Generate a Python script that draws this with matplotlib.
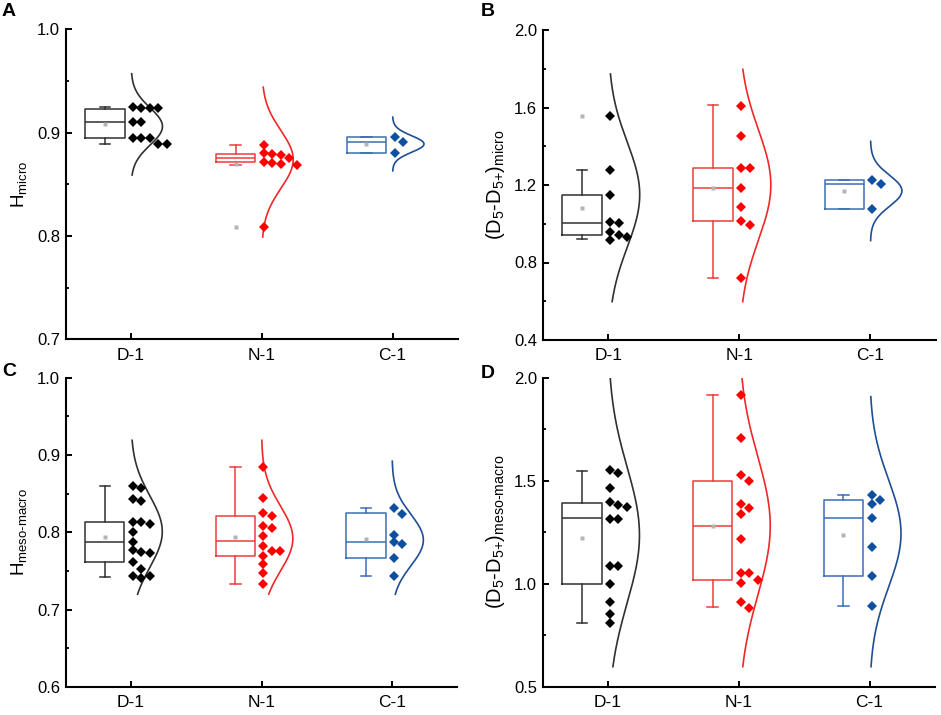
import numpy as np
import matplotlib
matplotlib.use("Agg")
import matplotlib.pyplot as plt

plt.rcParams['font.family'] = ['Liberation Sans', 'DejaVu Sans']
plt.rcParams['mathtext.fontset'] = 'custom'
plt.rcParams['mathtext.rm'] = 'Liberation Sans'
plt.rcParams['mathtext.it'] = 'Liberation Sans:italic'

# ---------------- data ----------------
groups = ['D-1', 'N-1', 'C-1']

A_D1 = [0.925, 0.924, 0.924, 0.924, 0.910, 0.910, 0.895, 0.895, 0.895, 0.889, 0.889]
A_N1 = [0.888, 0.880, 0.879, 0.878, 0.875, 0.872, 0.871, 0.870, 0.869, 0.809]
A_C1 = [0.8955, 0.891, 0.880]
# (whisker low, q1, median, q3, whisker high, mean)
A_box = [(0.889, 0.8945, 0.910, 0.923, 0.925, 0.908),
         (0.869, 0.872, 0.875, 0.8794, 0.888, 0.870),
         (0.880, 0.880, 0.891, 0.8955, 0.8955, 0.889)]
A_out = [[], [0.809], []]
# normal curve: (mu, sigma, y low, y high)
A_curve = [(0.906, 0.018, 0.859, 0.957),
           (0.874, 0.028, 0.799, 0.944),
           (0.889, 0.008, 0.863, 0.915)]

B_D1 = [1.554, 1.277, 1.147, 1.007, 1.006, 0.956, 0.942, 0.930, 0.916]
B_N1 = [1.608, 1.453, 1.289, 1.289, 1.183, 1.088, 1.016, 0.994, 0.718]
B_C1 = [1.224, 1.203, 1.076]
B_box = [(0.920, 0.942, 1.004, 1.148, 1.276, 1.083),
         (0.722, 1.016, 1.183, 1.289, 1.611, 1.183),
         (1.078, 1.078, 1.203, 1.224, 1.224, 1.169)]
B_out = [[1.554], [], []]
B_curve = [(1.15, 0.27, 0.598, 1.773),
           (1.20, 0.285, 0.598, 1.797),
           (1.17, 0.08, 0.913, 1.425)]

C_D1 = [0.860, 0.857, 0.843, 0.840, 0.814, 0.814, 0.811, 0.800, 0.787, 0.777,
        0.775, 0.773, 0.762, 0.753, 0.744, 0.744, 0.741]
C_N1 = [0.884, 0.845, 0.825, 0.821, 0.808, 0.806, 0.795, 0.782, 0.776, 0.776,
        0.769, 0.759, 0.747, 0.733]
C_C1 = [0.832, 0.824, 0.797, 0.787, 0.785, 0.767, 0.744]
C_box = [(0.742, 0.762, 0.787, 0.813, 0.860, 0.794),
         (0.733, 0.769, 0.789, 0.821, 0.884, 0.794),
         (0.744, 0.767, 0.787, 0.825, 0.832, 0.791)]
C_out = [[], [], []]
C_curve = [(0.801, 0.046, 0.720, 0.919),
           (0.792, 0.042, 0.720, 0.919),
           (0.790, 0.033, 0.720, 0.892)]

D_D1 = [1.552, 1.536, 1.466, 1.395, 1.382, 1.371, 1.314, 1.314, 1.084, 1.084,
        0.997, 0.913, 0.851, 0.807]
D_N1 = [1.916, 1.709, 1.528, 1.498, 1.385, 1.366, 1.338, 1.217, 1.053, 1.050,
        1.018, 1.002, 0.913, 0.883]
D_C1 = [1.430, 1.406, 1.385, 1.317, 1.176, 1.039, 0.892]
D_box = [(0.807, 0.997, 1.317, 1.393, 1.547, 1.220),
         (0.885, 1.018, 1.280, 1.498, 1.916, 1.280),
         (0.893, 1.039, 1.317, 1.406, 1.430, 1.236)]
D_out = [[], [], []]
D_curve = [(1.236, 0.33, 0.597, 2.0),
           (1.28, 0.335, 0.597, 2.0),
           (1.244, 0.26, 0.597, 1.908)]

# ---------------- styles ----------------
box_col = ['#303030', '#F03A3A', '#3A6DB5']
pt_col = ['#000000', '#FF0000', '#0F4FA0']
curve_col = ['#303030', '#F02828', '#1F4E94']
gray = '#B4B4B4'

fig = plt.figure(figsize=(9.41, 7.15), dpi=100)
W, H = 941, 715


def make_ax(l, r, t, b):
    return fig.add_axes([l / W, 1 - b / H, (r - l) / W, (b - t) / H])


def swarm_x(ax, vals, base, step=0.064, thr=7.5):
    ypx = ax.transData.transform(np.column_stack([np.zeros(len(vals)), vals]))[:, 1]
    order = sorted(range(len(vals)), key=lambda i: -vals[i])
    placed = []
    xs = np.zeros(len(vals))
    for i in order:
        k = 0
        while any(s == k and abs(p - ypx[i]) < thr for s, p in placed):
            k += 1
        placed.append((k, ypx[i]))
        xs[i] = base + 0.015 + k * step
    return xs


def panel(ax, data, box, outs, curves, ylim, major, minor, ylabel, lsize,
          letter, lx, ly):
    ax.set_xlim(0.5, 3.5)
    ax.set_ylim(*ylim)
    for j in range(3):
        wl, q1, md, q3, wh, mn = box[j]
        st = dict(med=md, q1=q1, q3=q3, whislo=wl, whishi=wh, mean=mn,
                  fliers=outs[j])
        c = box_col[j]
        ax.bxp([st], positions=[j + 0.8], widths=0.3, showmeans=True,
               capwidths=[0.08], manage_ticks=False,
               boxprops=dict(color=c, linewidth=1.1),
               medianprops=dict(color=c, linewidth=1.1),
               whiskerprops=dict(color=c, linewidth=1.1),
               capprops=dict(color=c, linewidth=1.1),
               meanprops=dict(marker='s', markersize=2.4, markerfacecolor=gray,
                              markeredgecolor='none'),
               flierprops=dict(marker='s', markersize=2.4, markerfacecolor=gray,
                               markeredgecolor='none'))
        vals = data[j]
        xs = swarm_x(ax, vals, j + 1)
        ax.plot(xs, vals, linestyle='none', marker='D', markersize=5.2,
                color=pt_col[j], markeredgewidth=0, zorder=4)
        mu, sg, lo, hi = curves[j]
        y = np.linspace(lo, hi, 300)
        x = j + 1 + 0.24 * np.exp(-0.5 * ((y - mu) / sg) ** 2)
        ax.plot(x, y, color=curve_col[j], linewidth=1.2, zorder=3)

    ax.spines['top'].set_visible(False)
    ax.spines['right'].set_visible(False)
    for s in ('left', 'bottom'):
        ax.spines[s].set_linewidth(1.5)
    ax.set_xticks([1, 2, 3])
    ax.set_xticklabels(groups, fontsize=12.5)
    ax.set_yticks(major)
    ax.set_yticklabels(['%.1f' % v for v in major], fontsize=12)
    ax.set_yticks(minor, minor=True)
    ax.tick_params(axis='both', which='major', direction='in', length=4, width=1.4)
    ax.tick_params(axis='y', which='minor', direction='in', length=2.5, width=1.3)
    ax.tick_params(axis='y', pad=4)
    ax.tick_params(axis='x', pad=6)
    ax.text(-0.12, 0.5, ylabel, transform=ax.transAxes, rotation=90,
            ha='center', va='center', fontsize=lsize)
    fig.text(lx / W, 1 - ly / H, letter, fontsize=14,
             fontweight='bold', ha='left', va='center')


axA = make_ax(65.7, 458, 29.3, 339.3)
axB = make_ax(542.7, 936, 30, 340)
axC = make_ax(65.7, 457.3, 377.7, 687)
axD = make_ax(542.7, 935, 377.7, 686.7)

panel(axA, [A_D1, A_N1, A_C1], A_box, A_out, A_curve, (0.7, 1.0),
      [0.7, 0.8, 0.9, 1.0], [0.75, 0.85, 0.95], r'H$_{\mathrm{micro}}$', 13.5,
      'A', 2, 12)
panel(axB, [B_D1, B_N1, B_C1], B_box, B_out, B_curve, (0.4, 2.0),
      [0.4, 0.8, 1.2, 1.6, 2.0], [0.6, 1.0, 1.4, 1.8],
      r'$\mathrm{(D_{5}}$-$\mathrm{D_{5{+}})_{micro}}$', 14.5, 'B', 481, 11)
panel(axC, [C_D1, C_N1, C_C1], C_box, C_out, C_curve, (0.6, 1.0),
      [0.6, 0.7, 0.8, 0.9, 1.0], [0.65, 0.75, 0.85, 0.95],
      r'H$_{\mathrm{meso\text{-}macro}}$', 13.5, 'C', 2, 372)
panel(axD, [D_D1, D_N1, D_C1], D_box, D_out, D_curve, (0.5, 2.0),
      [0.5, 1.0, 1.5, 2.0], [0.75, 1.25, 1.75],
      r'$\mathrm{(D_{5}}$-$\mathrm{D_{5{+}})_{meso\text{-}macro}}$', 14.5,
      'D', 481, 373)

fig.savefig('out.png', dpi=100)
